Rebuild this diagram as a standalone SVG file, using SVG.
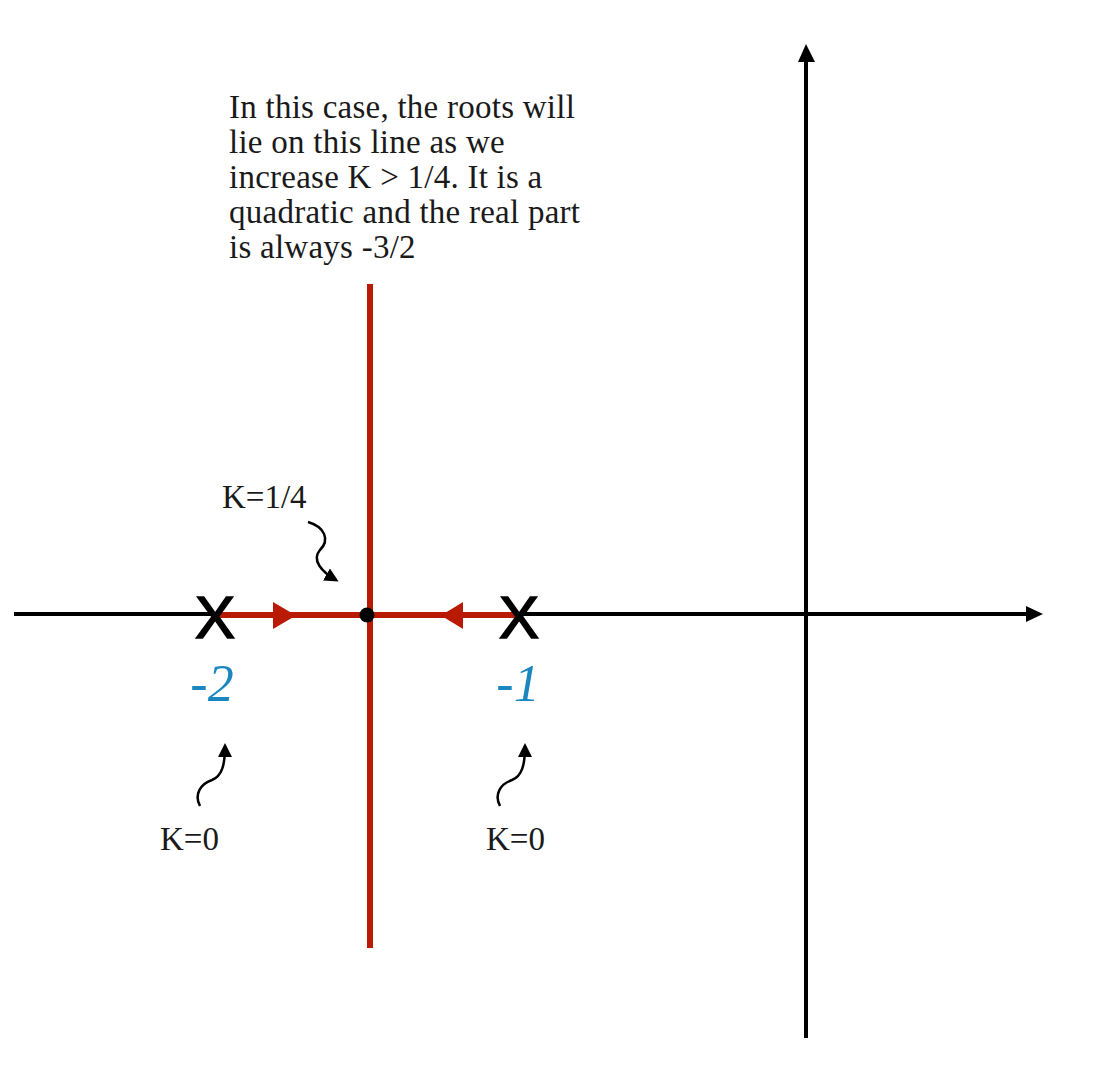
<svg xmlns="http://www.w3.org/2000/svg" width="1102" height="1092" viewBox="0 0 1102 1092">
<style>
.serif{font-family:"Liberation Serif","Times New Roman",serif;fill:#1a1a1a}
.note{font-size:33px;letter-spacing:0.25px}
.klab{font-size:33px}
.pole{font-family:"Liberation Sans",Arial,sans-serif;font-size:60px;fill:#000;stroke:#000;stroke-width:1.6;text-anchor:middle}
.val{font-family:"Liberation Serif","Times New Roman",serif;font-style:italic;font-size:52px;fill:#1b86c0;text-anchor:middle}
.axis{stroke:#000;stroke-width:4;fill:none}
.locus{stroke:#b81a04;stroke-width:6;fill:none}
.curl{stroke:#000;stroke-width:2.5;fill:none;marker-end:url(#ah)}
</style>
<defs>
<marker id="ah" markerWidth="16" markerHeight="14" refX="11" refY="7" orient="auto" markerUnits="userSpaceOnUse">
<path d="M0,0 L14,7 L0,14 Z" fill="#000"/>
</marker>
</defs>
<rect width="1102" height="1092" fill="#fff"/>
<g id="connectors">
<line class="axis" x1="14" y1="614" x2="1028" y2="614"/>
<polygon points="1026,606 1043,614 1026,622" fill="#000"/>
<line class="axis" x1="806" y1="1038" x2="806" y2="60"/>
<polygon points="798,62 806,44 815,62" fill="#000"/>
<line class="locus" x1="370" y1="284" x2="370" y2="948"/>
<line class="locus" x1="218" y1="615" x2="517" y2="615"/>
<polygon points="273,602 273,629 296,615.5" fill="#b81a04"/>
<polygon points="463,602 463,629 441,615.5" fill="#b81a04"/>
<path class="curl" d="M308,522 C325,527 330,540 320,550 C311,560 322,572 336,580"/>
<path class="curl" d="M200,806 C194,795 200,784 212,780 C222,776 225,765 225,746"/>
<path class="curl" d="M500,806 C494,795 500,784 512,780 C522,776 525,765 525,746"/>
</g>
<g id="node-breakaway">
<circle cx="367" cy="615" r="7.5" fill="#000"/>
</g>
<g id="node-pole-2">
<text class="pole" x="215" y="638">X</text>
<text class="val" x="212" y="701">-2</text>
</g>
<g id="node-pole-1">
<text class="pole" x="519" y="638">X</text>
<text class="val" x="518" y="701">-1</text>
</g>
<g id="label-k14">
<text class="serif klab" x="222" y="508">K=1/4</text>
</g>
<g id="label-k0-left">
<text class="serif klab" x="160" y="850">K=0</text>
</g>
<g id="label-k0-right">
<text class="serif klab" x="486" y="850">K=0</text>
</g>
<g id="note">
<text class="serif note" x="229" y="118">In this case, the roots will</text>
<text class="serif note" x="229" y="153">lie on this line as we</text>
<text class="serif note" x="229" y="188">increase K &gt; 1/4. It is a</text>
<text class="serif note" x="229" y="223">quadratic and the real part</text>
<text class="serif note" x="229" y="258">is always -3/2</text>
</g>
</svg>
